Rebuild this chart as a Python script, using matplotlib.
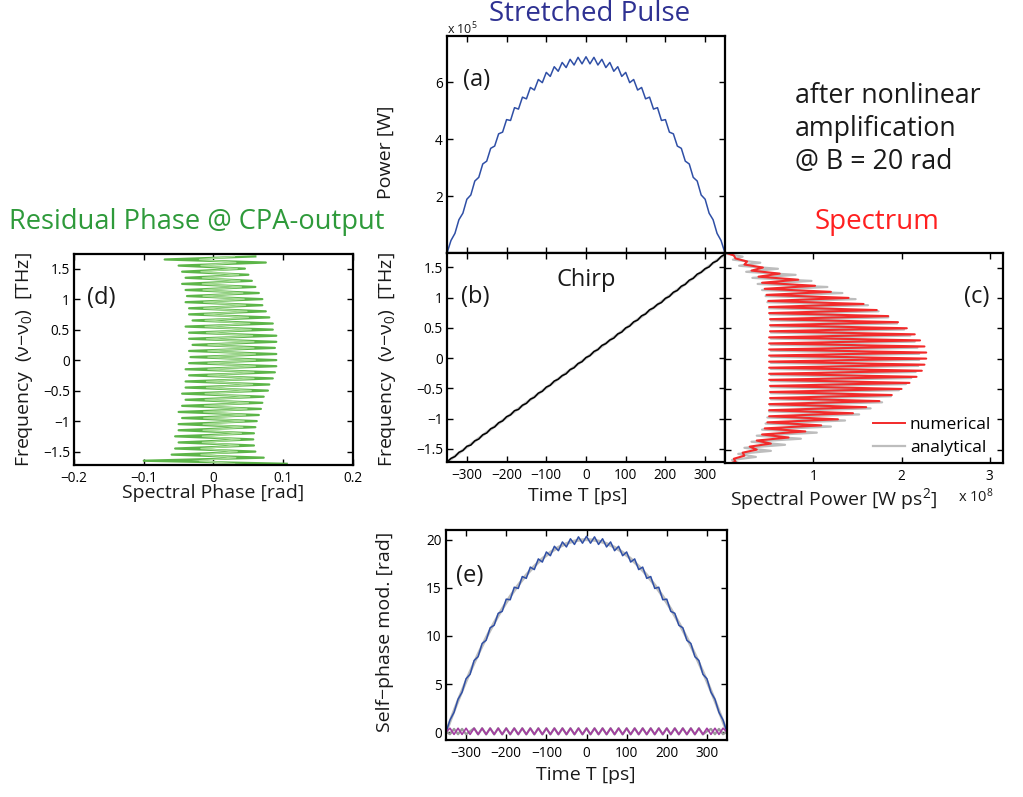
import matplotlib
matplotlib.use("Agg")
import matplotlib.pyplot as plt
from matplotlib.lines import Line2D

plt.rcParams.update({
    "font.family": ["Open Sans", "DejaVu Sans"],
    "mathtext.fontset": "custom", "mathtext.rm": "Open Sans", "mathtext.it": "Open Sans",
    "axes.linewidth": 1.6,
    "xtick.direction": "in", "ytick.direction": "in",
    "xtick.top": True, "ytick.right": True,
    "xtick.major.size": 4, "ytick.major.size": 4,
    "xtick.major.width": 1.0, "ytick.major.width": 1.0,
    "xtick.labelsize": 9.8, "ytick.labelsize": 9.8,
    "xtick.major.pad": 4, "ytick.major.pad": 3,
})

# ---------------- data ----------------
t_ps = [-350, -340, -330, -320, -310, -300, -290, -280, -270, -260, -250, -240,
        -230, -220, -210, -200, -190, -180, -170, -160, -150, -140, -130, -120,
        -110, -100, -90, -80, -70, -60, -50, -40, -30, -20, -10, 0,
        10, 20, 30, 40, 50, 60, 70, 80, 90, 100, 110, 120, 130, 140, 150, 160,
        170, 180, 190, 200, 210, 220, 230, 240, 250, 260, 270, 280, 290, 300,
        310, 320, 330, 340, 350]

# (a) power, units of 1e5 W
power_1e5 = [0.00, 0.44, 0.69, 1.17, 1.40, 1.89, 2.04, 2.53, 2.66, 3.13, 3.23, 3.68,
             3.76, 4.19, 4.25, 4.69, 4.66, 5.11, 5.06, 5.48, 5.42, 5.82, 5.73, 6.10,
             5.99, 6.35, 6.21, 6.55, 6.39, 6.70, 6.52, 6.81, 6.61, 6.88, 6.65, 6.90,
             6.65, 6.88, 6.61, 6.81, 6.52, 6.70, 6.39, 6.55, 6.21, 6.35, 5.99, 6.10,
             5.73, 5.82, 5.42, 5.48, 5.06, 5.11, 4.66, 4.69, 4.25, 4.19, 3.76, 3.68,
             3.23, 3.13, 2.66, 2.53, 2.04, 1.89, 1.40, 1.17, 0.69, 0.44, 0.00]

# (b) chirp, THz
chirp_num = [-1.72, -1.66, -1.63, -1.56, -1.53, -1.46, -1.44, -1.37, -1.34, -1.27, -1.24, -1.17,
             -1.14, -1.07, -1.04, -0.97, -0.94, -0.87, -0.85, -0.78, -0.75, -0.68, -0.65, -0.58,
             -0.55, -0.48, -0.45, -0.38, -0.35, -0.29, -0.26, -0.19, -0.16, -0.09, -0.06, 0.01,
             0.04, 0.11, 0.14, 0.21, 0.24, 0.30, 0.33, 0.40, 0.43, 0.50, 0.53, 0.60,
             0.63, 0.70, 0.73, 0.80, 0.83, 0.89, 0.92, 0.99, 1.02, 1.09, 1.12, 1.19,
             1.22, 1.29, 1.32, 1.39, 1.42, 1.48, 1.51, 1.58, 1.61, 1.68, 1.72]
chirp_t_ana = [-350, 350]
chirp_ana = [-1.72, 1.72]

# (c) spectrum, units of 1e8 W ps^2
nu_thz = [-1.75, -1.70, -1.65, -1.60, -1.55, -1.50, -1.45, -1.40, -1.35, -1.30, -1.25, -1.20,
          -1.15, -1.10, -1.05, -1.00, -0.95, -0.90, -0.85, -0.80, -0.75, -0.70, -0.65, -0.60,
          -0.55, -0.50, -0.45, -0.40, -0.35, -0.30, -0.25, -0.20, -0.15, -0.10, -0.05, 0.00,
          0.05, 0.10, 0.15, 0.20, 0.25, 0.30, 0.35, 0.40, 0.45, 0.50, 0.55, 0.60,
          0.65, 0.70, 0.75, 0.80, 0.85, 0.90, 0.95, 1.00, 1.05, 1.10, 1.15, 1.20,
          1.25, 1.30, 1.35, 1.40, 1.45, 1.50, 1.55, 1.60, 1.65, 1.70, 1.75]
spec_num = [0.00, 0.12, 0.10, 0.22, 0.20, 0.36, 0.28, 0.52, 0.36, 0.72, 0.42, 0.91,
            0.45, 1.09, 0.48, 1.28, 0.50, 1.45, 0.50, 1.60, 0.50, 1.75, 0.51, 1.89,
            0.51, 2.00, 0.51, 2.09, 0.50, 2.17, 0.50, 2.23, 0.50, 2.26, 0.50, 2.28,
            0.50, 2.28, 0.50, 2.26, 0.50, 2.21, 0.50, 2.15, 0.51, 2.06, 0.51, 1.96,
            0.51, 1.85, 0.50, 1.72, 0.50, 1.57, 0.49, 1.40, 0.47, 1.20, 0.45, 1.02,
            0.42, 0.83, 0.38, 0.62, 0.30, 0.43, 0.22, 0.25, 0.12, 0.10, 0.00]
nu_ana_thz = [-1.77, -1.72, -1.67, -1.62, -1.57, -1.52, -1.47, -1.42, -1.37, -1.32, -1.27, -1.22,
              -1.17, -1.12, -1.07, -1.02, -0.97, -0.92, -0.87, -0.82, -0.77, -0.72, -0.67, -0.62,
              -0.57, -0.52, -0.47, -0.42, -0.37, -0.32, -0.27, -0.22, -0.17, -0.12, -0.07, -0.02,
              0.03, 0.08, 0.13, 0.18, 0.23, 0.28, 0.33, 0.38, 0.43, 0.48, 0.53, 0.58,
              0.63, 0.68, 0.73, 0.78, 0.83, 0.88, 0.93, 0.98, 1.03, 1.08, 1.13, 1.18,
              1.23, 1.28, 1.33, 1.38, 1.43, 1.48, 1.53, 1.58, 1.63, 1.68, 1.73]
spec_ana = [0.00, 0.15, 0.08, 0.35, 0.15, 0.52, 0.22, 0.68, 0.30, 0.86, 0.36, 1.04,
            0.42, 1.20, 0.46, 1.36, 0.48, 1.52, 0.50, 1.65, 0.51, 1.78, 0.52, 1.88,
            0.52, 1.97, 0.52, 2.05, 0.52, 2.11, 0.52, 2.16, 0.52, 2.19, 0.52, 2.20,
            0.52, 2.20, 0.52, 2.18, 0.52, 2.15, 0.52, 2.10, 0.52, 2.03, 0.52, 1.95,
            0.52, 1.85, 0.51, 1.74, 0.50, 1.62, 0.48, 1.48, 0.46, 1.33, 0.42, 1.16,
            0.37, 0.98, 0.31, 0.80, 0.24, 0.60, 0.16, 0.40, 0.09, 0.20, 0.00]

# (d) residual spectral phase, rad
nu_ph_thz = [-1.70, -1.65, -1.60, -1.55, -1.50, -1.45, -1.40, -1.35, -1.30, -1.25, -1.20, -1.15,
             -1.10, -1.05, -1.00, -0.95, -0.90, -0.85, -0.80, -0.75, -0.70, -0.65, -0.60, -0.55,
             -0.50, -0.45, -0.40, -0.35, -0.30, -0.25, -0.20, -0.15, -0.10, -0.05, 0.00, 0.05,
             0.10, 0.15, 0.20, 0.25, 0.30, 0.35, 0.40, 0.45, 0.50, 0.55, 0.60, 0.65,
             0.70, 0.75, 0.80, 0.85, 0.90, 0.95, 1.00, 1.05, 1.10, 1.15, 1.20, 1.25,
             1.30, 1.35, 1.40, 1.45, 1.50, 1.55, 1.60, 1.65, 1.70]
phase_num = [0.105, -0.100, 0.072, -0.060, 0.060, -0.055, 0.058, -0.050, 0.057, -0.055, 0.058, -0.050,
             0.060, -0.050, 0.062, -0.045, 0.065, -0.050, 0.068, -0.045, 0.070, -0.040, 0.072, -0.045,
             0.078, -0.040, 0.080, -0.040, 0.085, -0.035, 0.088, -0.040, 0.090, -0.035, 0.090, -0.033,
             0.090, -0.035, 0.088, -0.030, 0.090, -0.035, 0.090, -0.035, 0.085, -0.040, 0.085, -0.030,
             0.080, -0.035, 0.075, -0.035, 0.070, -0.040, 0.070, -0.038, 0.065, -0.040, 0.060, -0.045,
             0.055, -0.040, 0.050, -0.045, 0.045, -0.050, 0.075, -0.070, 0.060]
phase_ana = [0.030, -0.020, 0.032, -0.018, 0.034, -0.018, 0.036, -0.016, 0.038, -0.016, 0.040, -0.015,
             0.042, -0.015, 0.044, -0.014, 0.046, -0.014, 0.048, -0.013, 0.050, -0.012, 0.052, -0.012,
             0.054, -0.010, 0.056, -0.010, 0.058, -0.008, 0.058, -0.008, 0.060, -0.008, 0.060, -0.008,
             0.060, -0.008, 0.058, -0.008, 0.058, -0.010, 0.056, -0.010, 0.054, -0.012, 0.052, -0.012,
             0.050, -0.013, 0.048, -0.014, 0.046, -0.014, 0.044, -0.015, 0.042, -0.015, 0.040, -0.016,
             0.038, -0.016, 0.036, -0.018, 0.034, -0.018, 0.032, -0.020, 0.030]

# (e) self-phase modulation, rad
spm_num = [0.00, 1.28, 2.07, 3.43, 4.16, 5.56, 6.02, 7.45, 7.85, 9.22, 9.55, 10.85,
           11.11, 12.35, 12.55, 13.82, 13.76, 15.06, 14.93, 16.17, 15.98, 17.15, 16.89, 18.00,
           17.67, 18.72, 18.33, 19.31, 18.85, 19.76, 19.24, 20.09, 19.50, 20.29, 19.63, 20.35,
           19.63, 20.29, 19.50, 20.09, 19.24, 19.76, 18.85, 19.31, 18.33, 18.72, 17.67, 18.00,
           16.89, 17.15, 15.98, 16.17, 14.93, 15.06, 13.76, 13.82, 12.55, 12.35, 11.11, 10.85,
           9.55, 9.22, 7.85, 7.45, 6.02, 5.56, 4.16, 3.43, 2.07, 1.28, 0.00]
spm_ana = [0.00, 1.13, 2.22, 3.28, 4.31, 5.31, 6.27, 7.20, 8.10, 8.97, 9.80, 10.60,
           11.36, 12.10, 12.80, 13.47, 14.11, 14.71, 15.28, 15.82, 16.33, 16.80, 17.24, 17.65,
           18.02, 18.37, 18.68, 18.96, 19.20, 19.41, 19.59, 19.74, 19.85, 19.94, 19.98, 20.00,
           19.98, 19.94, 19.85, 19.74, 19.59, 19.41, 19.20, 18.96, 18.68, 18.37, 18.02, 17.65,
           17.24, 16.80, 16.33, 15.82, 15.28, 14.71, 14.11, 13.47, 12.80, 12.10, 11.36, 10.60,
           9.80, 8.97, 8.10, 7.20, 6.27, 5.31, 4.31, 3.28, 2.22, 1.13, 0.00]
spm_res_num = [0.05, 0.42, -0.22, 0.42, -0.22, 0.42, -0.22, 0.42, -0.22, 0.42, -0.22, 0.42,
               -0.22, 0.42, -0.22, 0.42, -0.22, 0.42, -0.22, 0.42, -0.22, 0.42, -0.22, 0.42,
               -0.22, 0.42, -0.22, 0.42, -0.22, 0.42, -0.22, 0.42, -0.22, 0.42, -0.22, 0.42,
               -0.22, 0.42, -0.22, 0.42, -0.22, 0.42, -0.22, 0.42, -0.22, 0.42, -0.22, 0.42,
               -0.22, 0.42, -0.22, 0.42, -0.22, 0.42, -0.22, 0.42, -0.22, 0.42, -0.22, 0.42,
               -0.22, 0.42, -0.22, 0.42, -0.22, 0.42, -0.22, 0.42, -0.22, 0.42, 0.05]
spm_res_ana = [0.05, -0.20, 0.35, -0.20, 0.35, -0.20, 0.10, 0.42, -0.22, 0.42, -0.22, 0.42,
               -0.22, 0.42, -0.22, 0.42, -0.22, 0.42, -0.22, 0.42, -0.22, 0.42, -0.22, 0.42,
               -0.22, 0.42, -0.22, 0.42, -0.22, 0.42, -0.22, 0.42, -0.22, 0.42, -0.22, 0.42,
               -0.22, 0.42, -0.22, 0.42, -0.22, 0.42, -0.22, 0.42, -0.22, 0.42, -0.22, 0.42,
               -0.22, 0.42, -0.22, 0.42, -0.22, 0.42, -0.22, 0.42, -0.22, 0.42, -0.22, 0.42,
               -0.22, 0.42, -0.22, 0.42, -0.22, 0.10, 0.35, -0.20, 0.35, -0.20, 0.05]

t_ticks = [-300, -200, -100, 0, 100, 200, 300]
t_labels = ["\u2212300", "\u2212200", "\u2212100", "0", "100", "200", "300"]
nu_ticks = [-1.5, -1, -0.5, 0, 0.5, 1, 1.5]
nu_labels = ["\u22121.5", "\u22121", "\u22120.5", "0", "0.5", "1", "1.5"]
ph_ticks = [-0.2, -0.1, 0, 0.1, 0.2]
ph_labels = ["\u22120.2", "\u22120.1", "0", "0.1", "0.2"]

BLUE = "#2f4fa6"
RED = "#f22a2a"
GRAY = "#bdbdbd"
GREEN = "#5cb548"
LGREEN = "#a9dc98"
PURPLE = "#a43da2"

W, H = 1023, 797
fig = plt.figure(figsize=(W / 100, H / 100), dpi=100, facecolor="white")

def axes_px(l, t, r, b):
    return fig.add_axes([l / W, 1 - b / H, (r - l) / W, (b - t) / H])

NU_LIM = (-1.72, 1.74)

# (a) stretched pulse
ax_a = axes_px(447, 36, 725, 253)
ax_a.plot(t_ps, power_1e5, color=BLUE, lw=1.1)
ax_a.set_xlim(-350, 350); ax_a.set_ylim(0, 7.63)
ax_a.set_xticks(t_ticks); ax_a.set_xticklabels([])
ax_a.set_yticks([2, 4, 6]); ax_a.set_yticklabels(["2", "4", "6"])

# (b) chirp
ax_b = axes_px(447, 253, 725, 462)
ax_b.plot(chirp_t_ana, chirp_ana, color=GRAY, lw=2.0)
ax_b.plot(t_ps, chirp_num, color="black", lw=1.1)
ax_b.set_xlim(-350, 350); ax_b.set_ylim(*NU_LIM)
ax_b.set_xticks(t_ticks); ax_b.set_xticklabels(t_labels)
ax_b.set_yticks(nu_ticks); ax_b.set_yticklabels(nu_labels)

# (c) spectrum
ax_c = axes_px(725, 253, 1003, 463)
ax_c.plot(spec_ana, nu_ana_thz, color=GRAY, lw=1.6)
ax_c.plot(spec_num, nu_thz, color=RED, lw=1.5)
ax_c.set_xlim(0, 3.15); ax_c.set_ylim(*NU_LIM)
ax_c.set_xticks([1, 2, 3]); ax_c.set_xticklabels(["1", "2", "3"])
ax_c.set_yticks(nu_ticks); ax_c.set_yticklabels([])
handles = [Line2D([], [], color=RED, lw=1.4), Line2D([], [], color=GRAY, lw=1.6)]
ax_c.legend(handles, ["numerical", "analytical"], loc="lower right",
            bbox_to_anchor=(0.958, 0.035), frameon=False, fontsize=12.5,
            handlelength=1.8, handletextpad=0.3, labelspacing=0.35,
            borderpad=0, borderaxespad=0)

# (d) residual phase
ax_d = axes_px(74, 254, 353, 465)
ax_d.plot(phase_num, nu_ph_thz, color=GREEN, lw=1.6)
ax_d.plot(phase_ana, nu_ph_thz, color=LGREEN, lw=1.0)
ax_d.set_xlim(-0.2, 0.2); ax_d.set_ylim(*NU_LIM)
ax_d.set_xticks(ph_ticks); ax_d.set_xticklabels(ph_labels)
ax_d.set_yticks(nu_ticks); ax_d.set_yticklabels(nu_labels)

# (e) self-phase modulation
ax_e = axes_px(446, 530, 727, 740)
ax_e.plot(t_ps, spm_ana, color=GRAY, lw=2.2)
ax_e.plot(t_ps, spm_num, color=BLUE, lw=1.1)
ax_e.plot(t_ps, spm_res_ana, color="#9a9a9a", lw=1.6)
ax_e.plot(t_ps, spm_res_num, color=PURPLE, lw=1.2)
ax_e.set_xlim(-350, 350); ax_e.set_ylim(-0.8, 21)
ax_e.set_xticks(t_ticks); ax_e.set_xticklabels(t_labels)
ax_e.set_yticks([0, 5, 10, 15, 20]); ax_e.set_yticklabels(["0", "5", "10", "15", "20"])

# ---- text overlay in pixel coordinates ----
ov = fig.add_axes([0, 0, 1, 1], zorder=10)
ov.set_xlim(0, W); ov.set_ylim(H, 0); ov.axis("off")

def txt(x, y, s, size, color="#1a1a1a", rot=0, ha="center", va="center", **kw):
    ov.text(x, y, s, fontsize=size, color=color, rotation=rot, ha=ha, va=va, **kw)

txt(590, 14, "Stretched Pulse", 20, color="#2e3192")
txt(877, 222, "Spectrum", 20, color="#ff2020")
txt(197, 222, "Residual Phase @ CPA-output", 19.6, color="#2e9a3a")
txt(795, 129, "after nonlinear\namplification\n@ B = 20 rad", 19.3, ha="left", linespacing=1.22)

txt(447, 29, "x 10$^{5}$", 9, ha="left")
txt(477, 80, "(a)", 17)
txt(475, 297, "(b)", 17)
txt(586, 280, "Chirp", 17)
txt(977, 297, "(c)", 17)
txt(101, 298, "(d)", 17)
txt(470, 576, "(e)", 17)

txt(386, 152, "Power [W]", 14, rot=90)
txt(388, 360, "Frequency  (\u03bd\u2212\u03bd$_0$)  [THz]", 14, rot=90)
txt(25, 360, "Frequency  (\u03bd\u2212\u03bd$_0$)  [THz]", 14, rot=90)
txt(385, 632, "Self\u2212phase mod. [rad]", 14, rot=90)

txt(578, 496, "Time T [ps]", 14)
txt(586, 775, "Time T [ps]", 14)
txt(213, 493, "Spectral Phase [rad]", 14)
txt(834, 499, "Spectral Power [W ps$^2$]", 14)
txt(958, 497, "x 10$^{8}$", 10.5, ha="left")

fig.savefig("out.png", dpi=100, facecolor="white")
